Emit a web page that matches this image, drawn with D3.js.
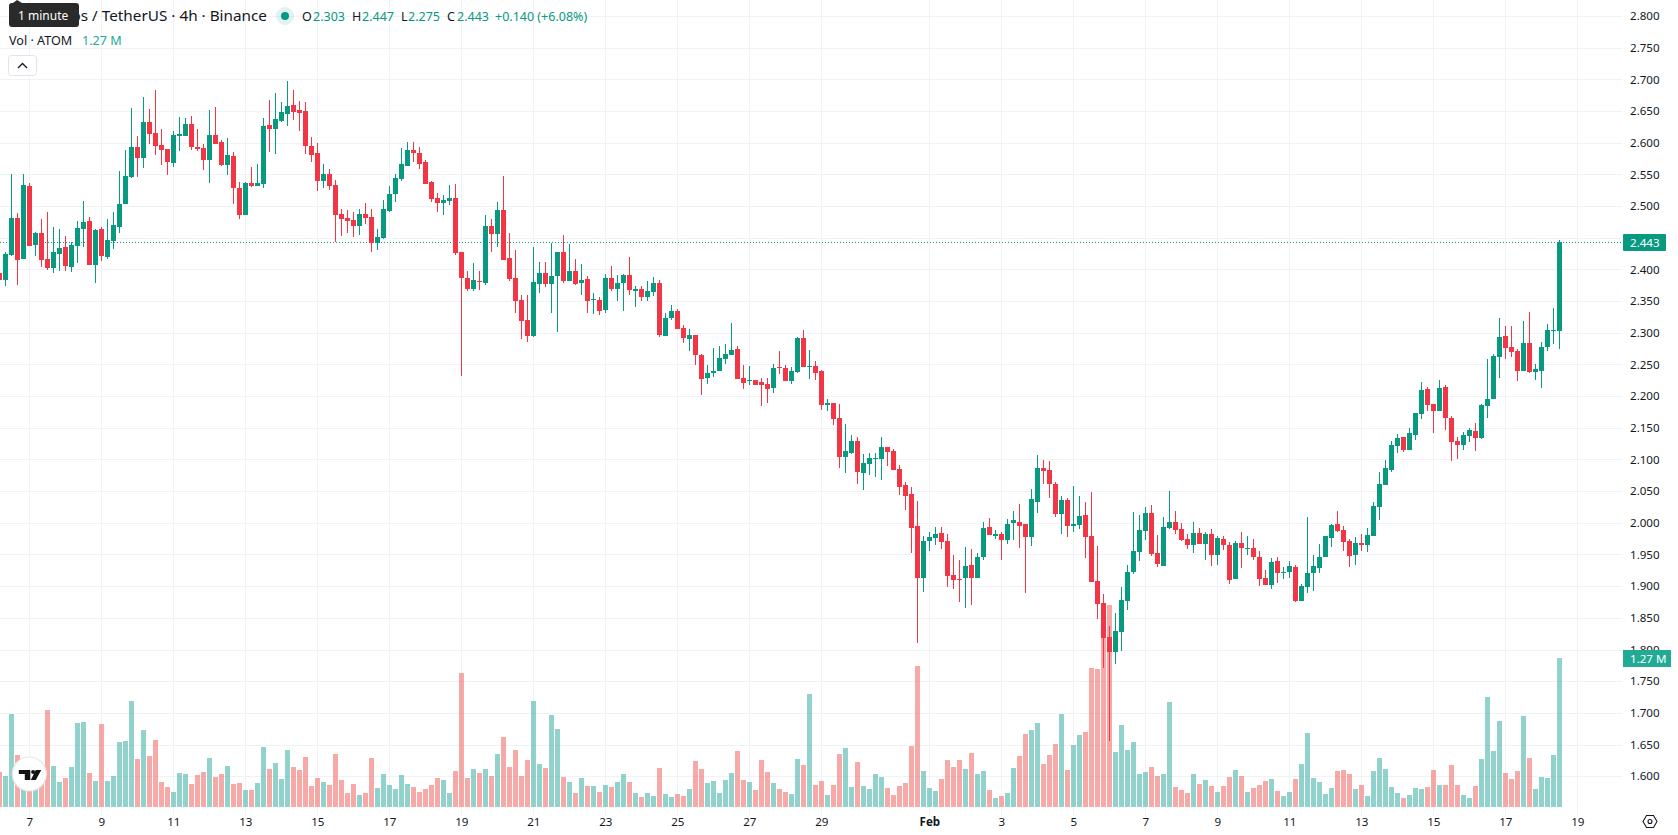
<!DOCTYPE html>
<html>
<head>
<meta charset="utf-8">
<title>Cosmos / TetherUS 4h</title>
<script src="https://cdn.jsdelivr.net/npm/d3@7/dist/d3.min.js"></script>
<style>
html,body{margin:0;padding:0;background:#fff;overflow:hidden}
svg{display:block;font-family:"Noto Sans",sans-serif}
</style>
</head>
<body>
<svg id="chart" width="1678" height="835"></svg>
<script>
// 4h candles, first bar opens 6 Jan 04:00 UTC, one row per ten candles after the leading bar
const opens = [2.394,
2.383,2.422,2.481,2.417,2.532,2.438,2.457,2.417,2.402,2.424,
2.435,2.404,2.437,2.464,2.476,2.407,2.464,2.420,2.445,2.467,
2.503,2.546,2.593,2.576,2.633,2.615,2.596,2.590,2.568,2.611,
2.611,2.630,2.593,2.592,2.573,2.612,2.601,2.565,2.579,2.529,
2.486,2.536,2.532,2.535,2.628,2.622,2.634,2.645,2.660,2.652,
2.650,2.595,2.584,2.540,2.551,2.533,2.488,2.481,2.478,2.469,
2.488,2.483,2.442,2.450,2.492,2.519,2.543,2.563,2.589,2.584,
2.570,2.538,2.513,2.505,2.508,2.513,2.427,2.386,2.369,2.382,
2.379,2.469,2.456,2.494,2.418,2.386,2.352,2.320,2.295,2.377,
2.394,2.377,2.390,2.427,2.382,2.398,2.379,2.385,2.352,2.352,
2.336,2.386,2.369,2.379,2.391,2.366,2.369,2.356,2.364,2.379,
2.295,2.323,2.334,2.308,2.290,2.297,2.265,2.229,2.236,2.240,
2.259,2.265,2.274,2.229,2.224,2.225,2.222,2.219,2.213,2.246,
2.244,2.224,2.238,2.292,2.246,2.248,2.240,2.186,2.189,2.165,
2.104,2.110,2.129,2.079,2.093,2.101,2.101,2.120,2.113,2.085,
2.060,2.045,1.995,1.913,1.971,1.976,1.984,1.971,1.918,1.911,
1.913,1.933,1.913,1.946,1.993,1.979,1.982,1.973,2.000,2.001,
1.998,1.978,2.033,2.087,2.083,2.061,2.014,2.036,1.995,1.997,
2.012,1.979,1.908,1.873,1.820,1.796,1.828,1.877,1.922,1.954,
1.987,2.015,1.952,1.932,1.992,2.001,1.990,1.974,1.965,1.984,
1.967,1.982,1.949,1.974,1.965,1.911,1.968,1.958,1.960,1.946,
1.913,1.902,1.940,1.921,1.922,1.930,1.877,1.899,1.921,1.929,
1.946,1.976,1.998,1.989,1.971,1.949,1.968,1.965,1.979,2.025,
2.060,2.083,2.121,2.135,2.115,2.139,2.172,2.211,2.188,2.177,
2.214,2.165,2.129,2.123,2.137,2.145,2.134,2.184,2.195,2.262,
2.295,2.277,2.271,2.240,2.284,2.238,2.240,2.278,2.303,2.303];

const highs = [2.404,
2.427,2.551,2.489,2.551,2.536,2.459,2.480,2.491,2.467,2.464,
2.453,2.443,2.476,2.508,2.483,2.464,2.467,2.480,2.491,2.555,
2.589,2.655,2.611,2.672,2.653,2.683,2.622,2.590,2.618,2.641,
2.639,2.642,2.622,2.598,2.652,2.656,2.604,2.607,2.585,2.538,
2.538,2.562,2.566,2.639,2.667,2.678,2.664,2.697,2.683,2.666,
2.664,2.609,2.600,2.566,2.559,2.541,2.495,2.494,2.491,2.495,
2.505,2.495,2.464,2.510,2.532,2.551,2.592,2.601,2.601,2.593,
2.573,2.540,2.521,2.517,2.533,2.535,2.427,2.398,2.410,2.398,
2.486,2.480,2.506,2.547,2.457,2.431,2.360,2.360,2.435,2.412,
2.412,2.442,2.427,2.454,2.440,2.416,2.409,2.390,2.363,2.357,
2.393,2.405,2.391,2.393,2.420,2.374,2.374,2.382,2.388,2.383,
2.331,2.344,2.338,2.312,2.306,2.297,2.267,2.249,2.276,2.279,
2.282,2.315,2.279,2.249,2.248,2.225,2.229,2.229,2.251,2.271,
2.249,2.246,2.293,2.304,2.273,2.255,2.241,2.195,2.189,2.187,
2.156,2.139,2.135,2.109,2.110,2.110,2.135,2.120,2.116,2.091,
2.064,2.057,2.034,1.979,1.985,1.993,1.993,1.982,1.949,1.941,
1.962,1.959,1.952,2.001,2.007,1.989,1.985,2.006,2.019,2.030,
1.998,2.053,2.107,2.099,2.098,2.064,2.042,2.039,2.058,2.042,
2.033,2.049,1.963,1.888,1.837,1.858,1.899,1.933,2.017,2.012,
2.025,2.028,1.981,2.009,2.050,2.019,2.000,1.982,2.001,1.992,
1.985,1.990,1.979,1.979,1.970,1.971,1.985,1.979,1.974,1.955,
1.926,1.944,1.946,1.930,1.940,1.933,1.903,2.009,1.949,1.967,
1.979,1.998,2.019,1.995,1.975,1.978,1.982,1.992,2.033,2.080,
2.099,2.129,2.140,2.135,2.150,2.173,2.222,2.214,2.188,2.225,
2.218,2.169,2.136,2.143,2.150,2.158,2.188,2.259,2.266,2.323,
2.311,2.311,2.274,2.319,2.333,2.251,2.285,2.314,2.339,2.447];

const lows = [2.377,
2.374,2.421,2.375,2.417,2.437,2.421,2.404,2.399,2.394,2.397,
2.397,2.396,2.410,2.435,2.407,2.379,2.413,2.417,2.432,2.457,
2.503,2.544,2.546,2.560,2.598,2.581,2.565,2.549,2.562,2.587,
2.611,2.589,2.587,2.557,2.536,2.598,2.563,2.549,2.503,2.480,
2.486,2.530,2.532,2.529,2.585,2.582,2.633,2.626,2.636,2.618,
2.582,2.570,2.524,2.529,2.525,2.443,2.453,2.457,2.451,2.454,
2.472,2.427,2.431,2.448,2.491,2.506,2.540,2.563,2.570,2.559,
2.535,2.506,2.491,2.486,2.502,2.423,2.232,2.366,2.366,2.368,
2.376,2.427,2.435,2.415,2.382,2.331,2.290,2.285,2.293,2.363,
2.372,2.331,2.301,2.379,2.382,2.375,2.360,2.331,2.330,2.328,
2.331,2.366,2.350,2.334,2.360,2.341,2.350,2.350,2.358,2.293,
2.295,2.320,2.306,2.284,2.271,2.249,2.202,2.219,2.230,2.240,
2.251,2.265,2.227,2.211,2.218,2.218,2.184,2.189,2.205,2.235,
2.224,2.219,2.236,2.246,2.227,2.225,2.178,2.176,2.154,2.087,
2.079,2.109,2.061,2.052,2.075,2.072,2.068,2.090,2.083,2.044,
2.020,1.952,1.810,1.891,1.955,1.965,1.959,1.899,1.896,1.875,
1.866,1.870,1.913,1.941,1.981,1.974,1.941,1.967,1.973,1.960,
1.889,1.963,2.015,2.061,2.039,2.009,1.982,1.978,1.985,1.990,
1.945,1.907,1.848,1.771,1.656,1.777,1.798,1.862,1.919,1.940,
1.973,1.948,1.930,1.932,1.990,1.982,1.971,1.959,1.952,1.967,
1.941,1.932,1.933,1.957,1.904,1.911,1.929,1.949,1.941,1.900,
1.902,1.896,1.905,1.911,1.913,1.875,1.877,1.889,1.892,1.921,
1.946,1.962,1.986,1.956,1.930,1.933,1.956,1.954,1.979,2.004,
2.060,2.080,2.110,2.112,2.115,2.131,2.164,2.177,2.142,2.177,
2.147,2.098,2.101,2.115,2.128,2.113,2.132,2.165,2.195,2.229,
2.259,2.262,2.224,2.240,2.236,2.225,2.213,2.271,2.282,2.275];

const closes = [2.383,
2.424,2.481,2.415,2.533,2.437,2.457,2.415,2.402,2.427,2.434,
2.405,2.438,2.465,2.475,2.407,2.462,2.421,2.446,2.470,2.503,
2.548,2.593,2.576,2.633,2.614,2.595,2.589,2.570,2.612,2.614,
2.630,2.593,2.590,2.573,2.612,2.598,2.565,2.581,2.529,2.486,
2.536,2.532,2.536,2.626,2.622,2.637,2.648,2.658,2.648,2.647,
2.595,2.581,2.540,2.551,2.532,2.486,2.480,2.476,2.469,2.488,
2.481,2.442,2.451,2.495,2.519,2.544,2.566,2.589,2.584,2.566,
2.535,2.511,2.505,2.510,2.513,2.426,2.386,2.369,2.383,2.380,
2.469,2.456,2.494,2.415,2.385,2.350,2.319,2.295,2.380,2.394,
2.377,2.390,2.427,2.382,2.398,2.377,2.383,2.350,2.353,2.334,
2.386,2.369,2.379,2.391,2.368,2.369,2.356,2.366,2.379,2.297,
2.323,2.334,2.306,2.292,2.297,2.265,2.227,2.236,2.240,2.260,
2.267,2.273,2.227,2.221,2.225,2.218,2.218,2.211,2.244,2.244,
2.224,2.240,2.292,2.246,2.248,2.236,2.186,2.189,2.164,2.104,
2.113,2.129,2.080,2.094,2.102,2.102,2.120,2.112,2.083,2.057,
2.042,1.992,1.913,1.971,1.977,1.982,1.970,1.916,1.910,1.910,
1.932,1.913,1.946,1.992,1.981,1.982,1.973,1.998,2.004,1.995,
1.978,2.038,2.087,2.082,2.061,2.014,2.036,1.995,1.998,2.011,
1.978,1.907,1.872,1.818,1.796,1.829,1.878,1.922,1.955,1.989,
2.015,1.951,1.935,1.993,2.001,1.989,1.973,1.965,1.984,1.967,
1.982,1.949,1.976,1.965,1.910,1.968,1.960,1.960,1.946,1.911,
1.902,1.938,1.921,1.922,1.932,1.877,1.900,1.921,1.932,1.946,
1.979,1.997,1.987,1.970,1.948,1.968,1.965,1.981,2.027,2.061,
2.087,2.123,2.134,2.115,2.142,2.173,2.210,2.186,2.177,2.213,
2.165,2.128,2.123,2.139,2.147,2.134,2.186,2.195,2.263,2.293,
2.276,2.270,2.240,2.284,2.238,2.243,2.278,2.304,2.304,2.443];

// Traded volume per candle, in thousands of ATOM
const volumes = [298,
264,793,443,170,153,170,256,827,349,213,
247,341,716,724,290,222,707,222,264,554,
563,903,409,656,435,571,213,170,128,290,
281,196,273,298,418,256,281,349,196,205,
145,145,205,511,324,375,239,486,341,315,
426,179,247,213,188,452,230,119,196,102,
119,418,162,281,188,153,273,196,170,128,
153,188,247,230,119,307,1142,247,324,290,
324,264,452,597,341,486,264,401,903,366,
332,784,665,256,213,119,247,179,179,128,
188,170,213,281,213,119,85,119,94,332,
111,85,111,94,153,392,324,205,222,119,
230,290,477,230,213,145,401,298,205,153,
128,111,409,358,963,188,222,102,188,452,
503,170,384,179,153,281,256,162,102,179,
205,520,1202,307,162,136,239,401,341,401,
324,460,281,307,145,77,94,119,332,435,
622,656,716,366,443,537,793,315,528,614,
639,1185,1176,1594,1722,469,699,486,554,281,
298,341,264,281,895,170,145,119,281,196,
230,179,128,179,256,315,264,128,162,188,
222,239,136,94,128,239,366,631,247,213,
111,162,307,315,281,153,188,94,307,418,
324,170,119,77,102,162,153,170,315,188,
188,358,188,102,77,179,409,938,477,733,
290,239,307,776,418,153,256,247,443,1270];

const priceTicks = [1.6,1.65,1.7,1.75,1.8,1.85,1.9,1.95,2,2.05,2.1,2.15,2.2,2.25,2.3,2.35,2.4,2.45,2.5,2.55,2.6,2.65,2.7,2.75,2.8];
const dateTicks = [[0,7],[0,9],[0,11],[0,13],[0,15],[0,17],[0,19],[0,21],[0,23],[0,25],[0,27],[0,29],[1,1],[1,3],[1,5],[1,7],[1,9],[1,11],[1,13],[1,15],[1,17],[1,19]].map(([m,d]) => new Date(Date.UTC(2024,m,d)));

const lastPrice = 2.443;
const lastVolumeText = "1.27 M";
const ohlcLegend = [["O","2.303",302,313],["H","2.447",352,362],["L","2.275",401,408],["C","2.443",447,457]];

const UP = "#089981", DOWN = "#f23645", VOL_UP = "#26a69a", VOL_DOWN = "#ef5350", TEXT = "#131722", GRID = "#f1f2f5";
const FOUR_HOURS = 4 * 3600 * 1000;
const firstCandle = Date.UTC(2024,0,7) - 5 * FOUR_HOURS;

const svg = d3.select("#chart");
const plotRight = 1622, plotBottom = 815;

const x = d3.scaleUtc().domain([new Date(Date.UTC(2024,0,7)), new Date(Date.UTC(2024,1,19))]).range([29.33, 1577.33]);
const y = d3.scaleLinear().domain([1.6, 2.8]).range([776.2, 16]);
const yVol = d3.scaleLinear().domain([0, 1270]).range([807, 658]);

const candles = opens.map((o,i) => ({
  t: new Date(firstCandle + i * FOUR_HOURS), o, h: highs[i], l: lows[i], c: closes[i], v: volumes[i]
}));
const cx = d => Math.floor(x(d.t));
const isUp = d => d.c >= d.o;

// Grid
const grid = svg.append("g").attr("shape-rendering","crispEdges").attr("stroke",GRID).attr("stroke-width",1);
grid.selectAll("line.h").data(priceTicks).join("line").attr("class","h")
  .attr("x1",0).attr("x2",plotRight).attr("y1",d=>Math.round(y(d))+.5).attr("y2",d=>Math.round(y(d))+.5);
grid.selectAll("line.v").data(dateTicks).join("line").attr("class","v")
  .attr("x1",d=>Math.floor(x(d))+.5).attr("x2",d=>Math.floor(x(d))+.5).attr("y1",0).attr("y2",plotBottom);

// Volume histogram
svg.append("g").attr("shape-rendering","crispEdges").selectAll("rect").data(candles).join("rect")
  .attr("x",d=>cx(d)-2).attr("width",5)
  .attr("y",d=>Math.round(yVol(d.v))).attr("height",d=>yVol(0)-Math.round(yVol(d.v)))
  .attr("fill",d=>isUp(d)?VOL_UP:VOL_DOWN).attr("fill-opacity",.5);

// Last price line
svg.append("line").attr("x1",0).attr("x2",plotRight)
  .attr("y1",Math.round(y(lastPrice))+.5).attr("y2",Math.round(y(lastPrice))+.5)
  .attr("stroke",UP).attr("stroke-width",1).attr("stroke-dasharray","1 2").attr("shape-rendering","crispEdges");

// Candles: wick then body
const candleG = svg.append("g").attr("shape-rendering","crispEdges");
candleG.selectAll("rect.wick").data(candles).join("rect").attr("class","wick")
  .attr("x",cx).attr("width",1)
  .attr("y",d=>Math.round(y(d.h))).attr("height",d=>Math.max(1,Math.round(y(d.l))-Math.round(y(d.h))))
  .attr("fill",d=>isUp(d)?UP:DOWN);
candleG.selectAll("rect.body").data(candles).join("rect").attr("class","body")
  .attr("x",d=>cx(d)-2).attr("width",5)
  .attr("y",d=>Math.round(y(Math.max(d.o,d.c))))
  .attr("height",d=>Math.max(1,Math.round(y(Math.min(d.o,d.c)))-Math.round(y(Math.max(d.o,d.c)))))
  .attr("fill",d=>isUp(d)?UP:DOWN);

// Price axis
const priceAxis = svg.append("g").attr("transform","translate(1630,0)")
  .call(d3.axisRight(y).tickValues(priceTicks).tickSize(0).tickPadding(0).tickFormat(d3.format(".3f")));
priceAxis.select(".domain").remove();
priceAxis.selectAll("text").attr("font-family",'"Noto Sans",sans-serif').attr("font-size",11.6).attr("fill",TEXT).attr("x",0);

// Time axis
const timeFmt = d => d.getUTCDate()===1 ? "Feb" : String(d.getUTCDate());
const timeAxis = svg.append("g").attr("transform","translate(0,815)")
  .call(d3.axisBottom(x).tickValues(dateTicks).tickSize(0).tickPadding(0).tickFormat(timeFmt));
timeAxis.select(".domain").remove();
timeAxis.selectAll("text").attr("font-family",'"Noto Sans",sans-serif').attr("font-size",11.6).attr("fill",TEXT).attr("y",0).attr("dy","11")
  .attr("font-weight",d=>d.getUTCDate()===1?700:400);

// Price and volume tags on the scale
svg.append("rect").attr("x",1623).attr("y",Math.round(y(lastPrice))-8).attr("width",43).attr("height",17).attr("rx",1).attr("fill",UP);
svg.append("text").attr("x",1630).attr("y",Math.round(y(lastPrice))+.5).attr("dy",".36em").attr("font-size",11.6).attr("fill","#fff").text(d3.format(".3f")(lastPrice));
svg.append("rect").attr("x",1623).attr("y",yVol(1270)-8).attr("width",48).attr("height",17).attr("fill","#22ab94");
svg.append("text").attr("x",1630).attr("y",yVol(1270)+.5).attr("dy",".36em").attr("font-size",11.6).attr("fill","#fff").text(lastVolumeText);

// Symbol line
svg.append("text").attr("x",267).attr("y",21).attr("text-anchor","end").attr("font-size",15.3).attr("fill",TEXT).text("Cosmos / TetherUS · 4h · Binance");
svg.append("circle").attr("cx",285).attr("cy",16).attr("r",9).attr("fill",UP).attr("fill-opacity",.12);
svg.append("circle").attr("cx",285).attr("cy",16).attr("r",4).attr("fill",UP);
ohlcLegend.forEach(([k,v,kx,vx]) => {
  svg.append("text").attr("x",kx).attr("y",21).attr("font-size",12.5).attr("fill",TEXT).text(k);
  svg.append("text").attr("x",vx).attr("y",21).attr("font-size",12.5).attr("fill",UP).text(v);
});
svg.append("text").attr("x",495).attr("y",21).attr("font-size",12.5).attr("fill",UP).text("+0.140 (+6.08%)");

// Volume legend and collapse button
svg.append("text").attr("x",9).attr("y",45).attr("font-size",12.6).attr("fill",TEXT).text("Vol · ATOM");
svg.append("text").attr("x",82).attr("y",45).attr("font-size",12.6).attr("fill","#22ab94").text(lastVolumeText);
svg.append("rect").attr("x",8.5).attr("y",55.5).attr("width",28).attr("height",20).attr("rx",3).attr("fill","#fff").attr("stroke","#e0e3eb");
svg.append("path").attr("d","M18 68 L22.5 63.5 L27 68").attr("fill","none").attr("stroke",TEXT).attr("stroke-width",1.3);

// Hover tooltip over the symbol name
svg.append("path").attr("d","M13 3 L17 0 L22 3 Z").attr("fill","#2a2a2a");
svg.append("rect").attr("x",9).attr("y",3).attr("width",70).attr("height",24).attr("rx",3).attr("fill","#2a2a2a");
svg.append("text").attr("x",18).attr("y",20).attr("font-size",12).attr("fill","#fff").text("1 minute");

// Logo badge
const logo = svg.append("g").attr("transform","translate(29.3,774)");
logo.append("circle").attr("r",17).attr("fill","#fff").attr("stroke","#e6e6e8").attr("stroke-width",1.2);
logo.append("path").attr("d","M-10.5 -4 H1 V6 H-4.5 V0 H-10.5 Z M6.5 -4 H12 L6.5 6 H1.5 Z").attr("fill","#131313");
logo.append("circle").attr("cx",3.8).attr("cy",-2).attr("r",2).attr("fill","#131313");

// Scale settings icon
const gear = svg.append("g").attr("transform","translate(1650,821.5)").attr("fill","none").attr("stroke",TEXT).attr("stroke-width",1.1);
gear.append("path").attr("d","M-7 0 L-3.5 -6 H3.5 L7 0 L3.5 6 H-3.5 Z");
gear.append("circle").attr("r",2);
</script>
</body>
</html>
